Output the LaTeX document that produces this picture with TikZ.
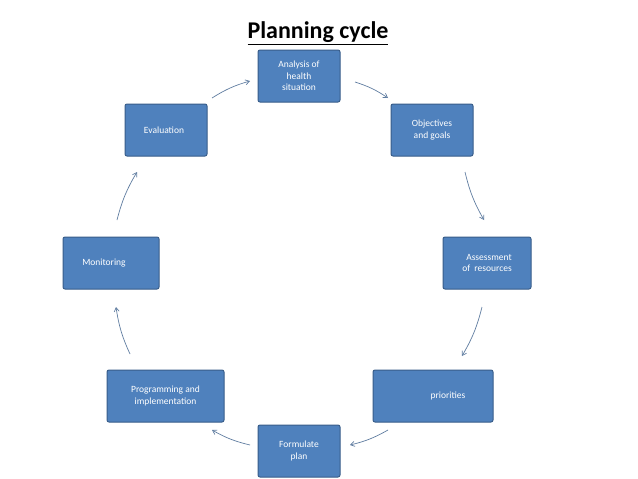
\documentclass[tikz,border=0pt]{standalone}
\usepackage{fontspec}
\setmainfont{Carlito}
\usetikzlibrary{arrows.meta}
\definecolor{boxfill}{HTML}{4F81BD}
\definecolor{boxline}{HTML}{385D8A}
\begin{document}
\begin{tikzpicture}[x=1pt,y=-1pt,
  box/.style={draw=boxline,fill=boxfill,line width=1pt,rounded corners=2pt,text=white,font=\fontsize{9.5}{11.5}\selectfont,inner sep=2pt,align=center},
  conn/.style={draw=boxline!80!white,line width=0.7pt,-{Straight Barb[length=4pt,width=5pt]}}]
\useasboundingbox[fill=white] (0,0) rectangle (638,479);
\node[font=\fontsize{24}{28}\bfseries\selectfont] (title) at (318,33) {\underline{Planning cycle}};
\node[box,minimum width=82pt,minimum height=52pt] (a) at (299,76) {Analysis of\\health\\situation};
\node[box,minimum width=82pt,minimum height=52pt] (b) at (432,130) {Objectives\\and goals};
\node[box,minimum width=88pt,minimum height=52pt,align=right] (c) at (487,263) {\hfill Assessment\\of\ \ resources};
\node[box,minimum width=120pt,minimum height=52pt] (d) at (433,396) {\hspace*{30pt}priorities};
\node[box,minimum width=82pt,minimum height=52pt] (e) at (299,451) {Formulate\\plan};
\node[box,minimum width=117pt,minimum height=52pt] (f) at (165.5,396) {Programming and\\implementation};
\node[box,minimum width=96pt,minimum height=52pt] (g) at (111,263) {Monitoring\hspace*{14pt}};
\node[box,minimum width=82pt,minimum height=52pt] (h) at (166,130) {Evaluation\hspace*{4pt}};
\coordinate (h1) at (212,98); \coordinate (h2) at (250,81);
\coordinate (a1) at (355,82); \coordinate (a2) at (388,98);
\coordinate (b1) at (465,172); \coordinate (b2) at (484,220);
\coordinate (c1) at (482,307); \coordinate (c2) at (462,356);
\coordinate (d1) at (388,430); \coordinate (d2) at (350,445);
\coordinate (e1) at (250,445); \coordinate (e2) at (212,430);
\coordinate (f1) at (130,354); \coordinate (f2) at (116,307);
\coordinate (g1) at (117,220); \coordinate (g2) at (137,172);
\draw[conn] (h1) to[bend left=8] (h2);
\draw[conn] (a1) to[bend left=8] (a2);
\draw[conn] (b1) to[bend right=8] (b2);
\draw[conn] (c1) to[bend left=8] (c2);
\draw[conn] (d1) to[bend left=8] (d2);
\draw[conn] (e1) to[bend left=8] (e2);
\draw[conn] (f1) to[bend left=8] (f2);
\draw[conn] (g1) to[bend left=8] (g2);
\end{tikzpicture}
\end{document}
